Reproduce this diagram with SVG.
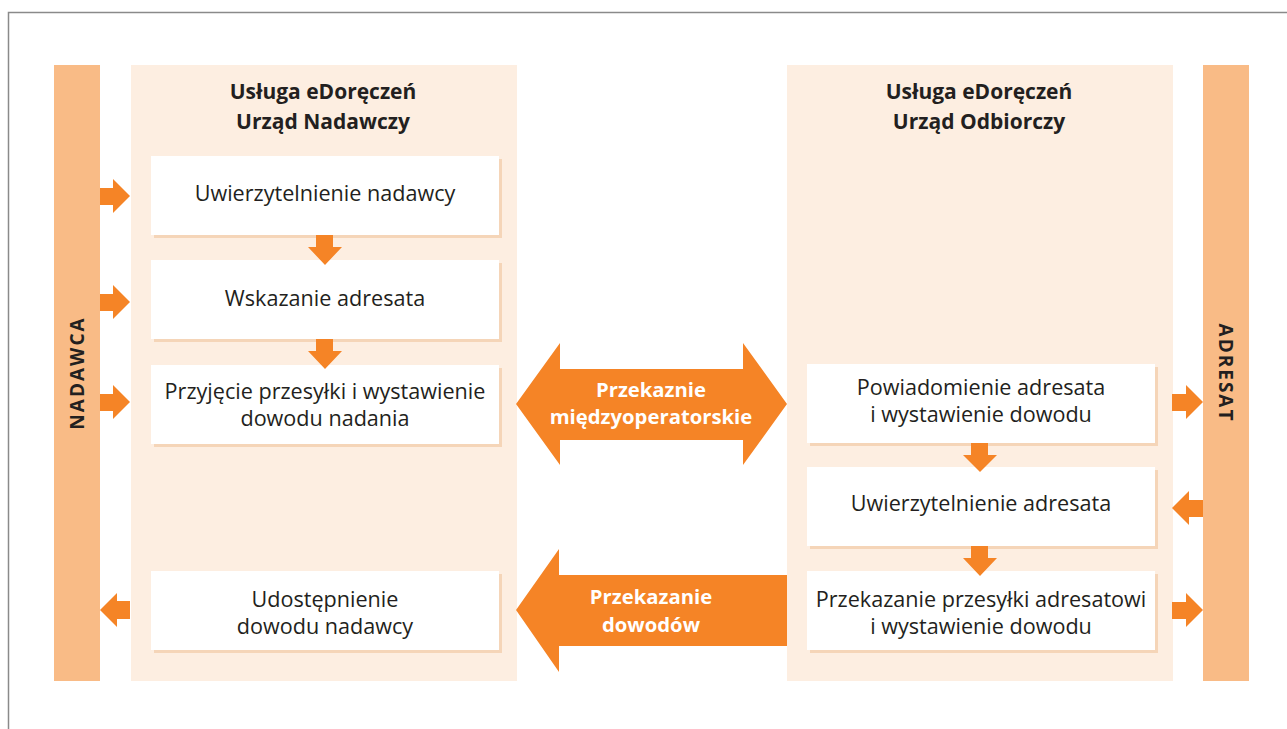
<svg xmlns="http://www.w3.org/2000/svg" width="1287" height="729" viewBox="0 0 1287 729">
<style>
.bar{fill:#f9bb86}
.panel{fill:#fdeee1}
.box{fill:#ffffff}
.sh{fill:#f5d5b8}
.arr{fill:#f58426}
.t{font-family:"Open Sans","Noto Sans","Liberation Sans",sans-serif;font-size:21.6px;fill:#231f20;text-anchor:middle}
.h{font-family:"Open Sans","Noto Sans","Liberation Sans",sans-serif;font-size:21px;font-weight:bold;fill:#231f20;text-anchor:middle}
.w{font-family:"Open Sans","Noto Sans","Liberation Sans",sans-serif;font-size:20.3px;font-weight:bold;fill:#ffffff;text-anchor:middle}
.v{font-family:"Open Sans","Noto Sans","Liberation Sans",sans-serif;font-size:19px;font-weight:bold;fill:#231f20;text-anchor:middle;letter-spacing:2px}
</style>
<rect width="1287" height="729" fill="#ffffff"/>
<path d="M1287,12.5 H8.5 V729" fill="none" stroke="#8a8a8a" stroke-width="1.5"/>

<g id="nadawca">
<rect class="bar" x="54" y="65" width="46" height="616"/>
<text class="v" transform="translate(84,373) rotate(-90)">NADAWCA</text>
</g>
<g id="adresat">
<rect class="bar" x="1203" y="65" width="46" height="616"/>
<text class="v" transform="translate(1219,373) rotate(90)">ADRESAT</text>
</g>

<g id="urzad-nadawczy">
<rect class="panel" x="131" y="65" width="386" height="616"/>
<text class="h" x="323" y="99">Usługa eDoręczeń</text>
<text class="h" x="323" y="129">Urząd Nadawczy</text>
</g>
<g id="urzad-odbiorczy">
<rect class="panel" x="787" y="65" width="386" height="616"/>
<text class="h" x="979" y="99">Usługa eDoręczeń</text>
<text class="h" x="979" y="129">Urząd Odbiorczy</text>
</g>

<g id="box-uwierzytelnienie-nadawcy">
<rect class="sh" x="154" y="159" width="348" height="79"/>
<rect class="box" x="151" y="156" width="348" height="79"/>
<text class="t" x="325" y="201">Uwierzytelnienie nadawcy</text>
</g>
<g id="box-wskazanie-adresata">
<rect class="sh" x="154" y="263" width="348" height="79"/>
<rect class="box" x="151" y="260" width="348" height="79"/>
<text class="t" x="325" y="306">Wskazanie adresata</text>
</g>
<g id="box-przyjecie">
<rect class="sh" x="154" y="368" width="348" height="79"/>
<rect class="box" x="151" y="365" width="348" height="79"/>
<text class="t" x="325" y="399">Przyjęcie przesyłki i wystawienie</text>
<text class="t" x="325" y="426">dowodu nadania</text>
</g>
<g id="box-udostepnienie">
<rect class="sh" x="154" y="574" width="348" height="79"/>
<rect class="box" x="151" y="571" width="348" height="79"/>
<text class="t" x="325" y="607">Udostępnienie</text>
<text class="t" x="325" y="634">dowodu nadawcy</text>
</g>
<g id="box-powiadomienie">
<rect class="sh" x="810" y="367" width="348" height="79"/>
<rect class="box" x="807" y="364" width="348" height="79"/>
<text class="t" x="981" y="395">Powiadomienie adresata</text>
<text class="t" x="981" y="422">i wystawienie dowodu</text>
</g>
<g id="box-uwierzytelnienie-adresata">
<rect class="sh" x="810" y="470" width="348" height="79"/>
<rect class="box" x="807" y="467" width="348" height="79"/>
<text class="t" x="981" y="511">Uwierzytelnienie adresata</text>
</g>
<g id="box-przekazanie">
<rect class="sh" x="810" y="574" width="348" height="79"/>
<rect class="box" x="807" y="571" width="348" height="79"/>
<text class="t" x="981" y="607">Przekazanie przesyłki adresatowi</text>
<text class="t" x="981" y="634">i wystawienie dowodu</text>
</g>

<g id="connectors">
<path class="arr" d="M316,235 H333 V247 H342 L325,265 L308,247 H316 Z"/>
<path class="arr" d="M316,339 H333 V351 H342 L325,369 L308,351 H316 Z"/>
<path class="arr" d="M971,443 H988 V455 H997 L980,472 L963,455 H971 Z"/>
<path class="arr" d="M971,546 H988 V558 H997 L980,576 L963,558 H971 Z"/>
<path class="arr" d="M100,188 H113 V179 L130,196 L113,213 V205 H100 Z"/>
<path class="arr" d="M100,294 H113 V285 L130,302 L113,319 V311 H100 Z"/>
<path class="arr" d="M100,394 H113 V385 L130,402 L113,419 V411 H100 Z"/>
<path class="arr" d="M130,601 H117 V593 L100,610 L117,627 V619 H130 Z"/>
<path class="arr" d="M1172,394 H1186 V385 L1203,402 L1186,419 V411 H1172 Z"/>
<path class="arr" d="M1203,500 H1189 V491 L1172,508 L1189,525 V517 H1203 Z"/>
<path class="arr" d="M1172,602 H1186 V593 L1203,610 L1186,627 V619 H1172 Z"/>
<path class="arr" d="M516,404 L560,343 V369 H743 V343 L787,404 L743,465 V440 H560 V465 Z"/>
<text class="w" x="651" y="397">Przekaznie</text>
<text class="w" x="651" y="424">międzyoperatorskie</text>
<path class="arr" d="M516,610 L559,549 V575 H787 V646 H559 V672 Z"/>
<text class="w" x="651" y="604">Przekazanie</text>
<text class="w" x="651" y="632">dowodów</text>
</g>
</svg>
